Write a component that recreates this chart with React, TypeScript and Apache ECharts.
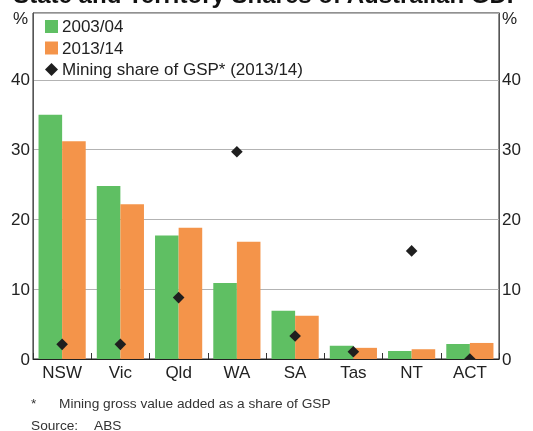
import React, { useEffect, useRef } from "react";
import * as echarts from "echarts";

const categories = ["NSW", "Vic", "Qld", "WA", "SA", "Tas", "NT", "ACT"];
const share0304 = [35.0, 24.8, 17.7, 10.9, 6.9, 1.9, 1.15, 2.15];
const share1314 = [31.2, 22.2, 18.8, 16.8, 6.2, 1.6, 1.4, 2.3];
const miningShare = [2.1, 2.1, 8.8, 29.7, 3.3, 1.05, 15.5, 0.0];
const yTicks = [0, 10, 20, 30, 40];

const FONT = 'Arial, "Liberation Sans", sans-serif';
const GREEN = "#5fbf63";
const ORANGE = "#f4944a";
const DIAMOND = "#1f1f1f";

export default function App() {
  const ref = useRef<HTMLDivElement>(null);

  useEffect(() => {
    if (!ref.current) return;
    const chart = echarts.init(ref.current, null, { renderer: "svg" });
    const yAxisCommon = {
      type: "value",
      min: 0,
      max: 49.6,
      interval: 10,
      axisTick: { show: false },
      axisLine: { show: true, lineStyle: { color: "#555", width: 1 } },
      axisLabel: {
        showMaxLabel: false,
        fontFamily: FONT,
        fontSize: 17,
        color: "#222",
        margin: 3,
        formatter: (v: number) => (yTicks.includes(v) ? String(v) : ""),
      },
    };
    chart.setOption({
      animation: false,
      textStyle: { fontFamily: FONT },
      grid: {
        left: 33,
        right: 34,
        top: 13,
        bottom: 72,
        show: true,
        borderColor: "#222",
        borderWidth: 1,
        backgroundColor: "transparent",
      },
      legend: {
        orient: "vertical",
        left: 40,
        top: 13,
        itemWidth: 13,
        itemHeight: 13,
        itemGap: 4.5,
        textStyle: { fontFamily: FONT, fontSize: 17, color: "#222", padding: [0, 0, 0, -1] },
        data: [
          { name: "2003/04", icon: "rect" },
          { name: "2013/14", icon: "rect" },
          { name: "Mining share of GSP* (2013/14)", icon: "diamond" },
        ],
      },
      xAxis: {
        type: "category",
        data: categories,
        axisLine: { show: true, onZero: false, lineStyle: { color: "#222", width: 1 } },
        axisTick: { show: true, inside: true, length: 6, lineStyle: { color: "#333" } },
        axisLabel: { fontFamily: FONT, fontSize: 17, color: "#222", margin: 5 },
        splitLine: { show: false },
      },
      yAxis: [
        {
          ...yAxisCommon,
          position: "left",
          splitLine: { show: true, lineStyle: { color: "#b3b3b3", width: 1 } },
        },
        {
          ...yAxisCommon,
          position: "right",
          splitLine: { show: false },
        },
      ],
      series: [
        {
          name: "2003/04",
          type: "bar",
          data: share0304,
          barGap: "0%",
          barCategoryGap: "19%",
          itemStyle: { color: GREEN },
        },
        {
          name: "2013/14",
          type: "bar",
          data: share1314,
          barGap: "0%",
          barCategoryGap: "19%",
          itemStyle: { color: ORANGE },
        },
        {
          name: "Mining share of GSP* (2013/14)",
          type: "custom",
          clip: true,
          z: 5,
          itemStyle: { color: DIAMOND },
          data: miningShare.map((v, i) => [i, v]),
          encode: { x: 0, y: 1 },
          renderItem: (params: any, api: any) => {
            const p = api.coord([api.value(0), api.value(1)]);
            const h = 5.8;
            return {
              type: "polygon",
              shape: {
                points: [
                  [p[0], p[1] - h],
                  [p[0] + h, p[1]],
                  [p[0], p[1] + h],
                  [p[0] - h, p[1]],
                ],
              },
              style: { fill: DIAMOND },
            };
          },
        },
      ],
      graphic: [
        {
          type: "text",
          x: 268,
          y: -5.5,
          style: {
            text: "State and Territory Shares of Australian GDP",
            font: `bold 24px ${FONT}`,
            fill: "#111",
            textAlign: "center",
            textVerticalAlign: "middle",
          },
        },
        {
          type: "text",
          x: 28,
          y: 18,
          style: { text: "%", font: `17px ${FONT}`, fill: "#222", textAlign: "right", textVerticalAlign: "middle" },
        },
        {
          type: "text",
          x: 502,
          y: 18,
          style: { text: "%", font: `17px ${FONT}`, fill: "#222", textAlign: "left", textVerticalAlign: "middle" },
        },
        {
          type: "text",
          x: 31,
          y: 403,
          style: { text: "*", font: `13.7px ${FONT}`, fill: "#333", textAlign: "left", textVerticalAlign: "middle" },
        },
        {
          type: "text",
          x: 59,
          y: 403,
          style: {
            text: "Mining gross value added as a share of GSP",
            font: `13.7px ${FONT}`,
            fill: "#333",
            textAlign: "left",
            textVerticalAlign: "middle",
          },
        },
        {
          type: "text",
          x: 31,
          y: 425,
          style: { text: "Source:", font: `13.7px ${FONT}`, fill: "#333", textAlign: "left", textVerticalAlign: "middle" },
        },
        {
          type: "text",
          x: 94,
          y: 425,
          style: { text: "ABS", font: `13.7px ${FONT}`, fill: "#333", textAlign: "left", textVerticalAlign: "middle" },
        },
      ],
    });
    return () => chart.dispose();
  }, []);

  return (
    <div
      ref={ref}
      style={{ position: "fixed", left: 0, top: 0, width: 533, height: 431 }}
    />
  );
}
